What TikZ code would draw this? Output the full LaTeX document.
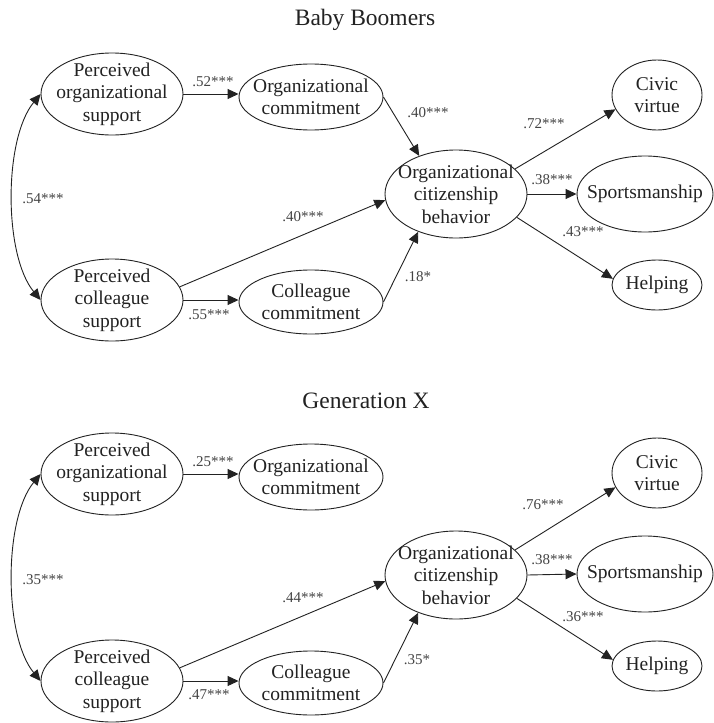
\documentclass[tikz,border=0pt]{standalone}
\usepackage{fontspec}
\setmainfont{Liberation Serif}
\usetikzlibrary{shapes.geometric,arrows.meta}
\newcommand\ndfont{\fontsize{19.5}{22.5}\selectfont}
\newcommand\lbfont{\fontsize{15}{17}\selectfont}
\newcommand\ttlfont{\fontsize{23.5}{26}\selectfont}
\definecolor{ink}{HTML}{222222}
\definecolor{labgray}{HTML}{444444}
\tikzset{
  ell/.style={draw=ink, ellipse, line width=0.9pt, inner sep=0pt},
  txt/.style={align=center, font=\ndfont, text=ink, inner sep=0pt},
  lab/.style={font=\lbfont, text=labgray, inner sep=0pt},
  ttl/.style={font=\ttlfont, text=ink, inner sep=0pt},
  arr/.style={draw=ink, line width=0.9pt, -{Triangle[length=11pt,width=10pt]}},
  darr/.style={draw=ink, line width=0.9pt, {Triangle[length=11pt,width=10pt]}-{Triangle[length=11pt,width=10pt]}},
}
\begin{document}
\begin{tikzpicture}[x=1pt,y=-1pt]
\useasboundingbox (0,0) rectangle (714,723);
\fill[white] (0,0) rectangle (714,723);

% ================= Baby Boomers =================
\node[ttl] (t1) at (365,20) {Baby Boomers};

\node[ell, minimum width=142pt, minimum height=82pt, label={[txt]center:{Perceived\\organizational\\support}}] (pos1) at (112,94) {};
\node[ell, minimum width=144pt, minimum height=66pt, label={[txt]center:{Organizational\\commitment}}] (oc1) at (311,97) {};
\node[ell, minimum width=142pt, minimum height=82pt, label={[txt]center:{Perceived\\colleague\\support}}] (pcs1) at (112,300) {};
\node[ell, minimum width=144pt, minimum height=64pt, label={[txt]center:{Colleague\\commitment}}] (cc1) at (311,302) {};
\node[ell, minimum width=142pt, minimum height=88pt, label={[txt]center:{Organizational\\citizenship\\behavior}}] (ocb1) at (456,194) {};
\node[ell, minimum width=90pt, minimum height=70pt, label={[txt]center:{Civic\\virtue}}] (civ1) at (657,95) {};
\node[ell, minimum width=136pt, minimum height=76pt, label={[txt]center:{Sportsmanship}}] (spo1) at (645,194) {};
\node[ell, minimum width=90pt, minimum height=50pt, label={[txt]center:{Helping}}] (hel1) at (657,285) {};

\draw[arr] (pos1.east) -- (pos1.east -| oc1.west);
\draw[arr] (pcs1.east) -- (pcs1.east -| cc1.west);
\draw[arr] (oc1.east) -- (ocb1.134);
\draw[arr] (pcs1.11) -- (ocb1.185);
\draw[arr] (cc1.east) -- (ocb1.225);
\draw[arr] (ocb1.23) -- (civ1.199);
\draw[arr] (ocb1.east) -- (spo1.west);
\draw[arr] (ocb1.339) -- (hel1.172);
\draw[darr] (pos1.west) .. controls +(-37,45) and +(-37,-45) .. (pcs1.west);

\node[lab] (l1a) at (213,82) {.52***};
\node[lab] (l1b) at (428,113) {.40***};
\node[lab] (l1c) at (303,217) {.40***};
\node[lab] (l1d) at (209,315) {.55***};
\node[lab] (l1e) at (418,277) {.18*};
\node[lab] (l1f) at (544,124) {.72***};
\node[lab] (l1g) at (552,180) {.38***};
\node[lab] (l1h) at (583,232) {.43***};
\node[lab] (l1i) at (43,199) {.54***};

% ================= Generation X =================
\node[ttl] (t2) at (366,401) {Generation X};

\node[ell, minimum width=142pt, minimum height=82pt, label={[txt]center:{Perceived\\organizational\\support}}] (pos2) at (112,474) {};
\node[ell, minimum width=144pt, minimum height=66pt, label={[txt]center:{Organizational\\commitment}}] (oc2) at (311,477) {};
\node[ell, minimum width=142pt, minimum height=82pt, label={[txt]center:{Perceived\\colleague\\support}}] (pcs2) at (112,681) {};
\node[ell, minimum width=144pt, minimum height=64pt, label={[txt]center:{Colleague\\commitment}}] (cc2) at (311,683) {};
\node[ell, minimum width=142pt, minimum height=88pt, label={[txt]center:{Organizational\\citizenship\\behavior}}] (ocb2) at (456,575) {};
\node[ell, minimum width=90pt, minimum height=70pt, label={[txt]center:{Civic\\virtue}}] (civ2) at (657,473) {};
\node[ell, minimum width=136pt, minimum height=76pt, label={[txt]center:{Sportsmanship}}] (spo2) at (645,574) {};
\node[ell, minimum width=90pt, minimum height=50pt, label={[txt]center:{Helping}}] (hel2) at (657,666) {};

\draw[arr] (pos2.east) -- (pos2.east -| oc2.west);
\draw[arr] (pcs2.east) -- (pcs2.east -| cc2.west);
\draw[arr] (pcs2.11) -- (ocb2.185);
\draw[arr] (cc2.east) -- (ocb2.225);
\draw[arr] (ocb2.23) -- (civ2.199);
\draw[arr] (ocb2.east) -- (spo2.west);
\draw[arr] (ocb2.339) -- (hel2.172);
\draw[darr] (pos2.west) .. controls +(-37,45) and +(-37,-45) .. (pcs2.west);

\node[lab] (l2a) at (213,462) {.25***};
\node[lab] (l2c) at (303,598) {.44***};
\node[lab] (l2d) at (209,695) {.47***};
\node[lab] (l2e) at (417,660) {.35*};
\node[lab] (l2f) at (543,505) {.76***};
\node[lab] (l2g) at (552,560) {.38***};
\node[lab] (l2h) at (583,617) {.36***};
\node[lab] (l2i) at (43,580) {.35***};
\end{tikzpicture}
\end{document}
